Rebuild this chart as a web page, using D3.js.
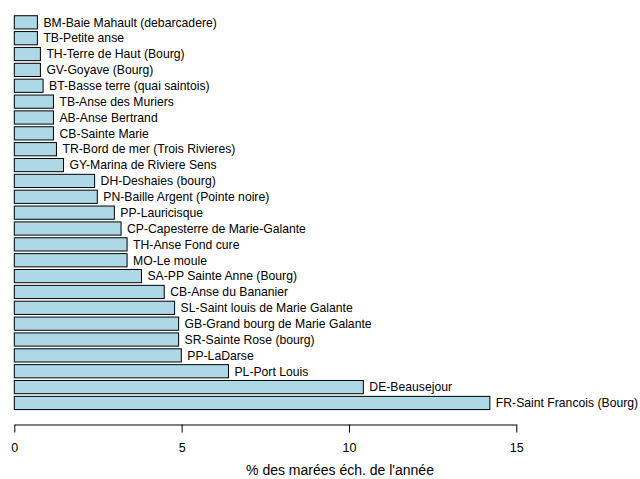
<!DOCTYPE html>
<html>
<head>
<meta charset="utf-8">
<script src="https://cdn.jsdelivr.net/npm/d3@7"></script>
<style>
html,body{margin:0;padding:0;background:#fff;}
svg{display:block;}
text{font-family:"Liberation Sans",Arial,sans-serif;}
</style>
</head>
<body>
<svg id="chart" width="640" height="479"></svg>
<script>
const categories = [
  "BM-Baie Mahault (debarcadere)",
  "TB-Petite anse",
  "TH-Terre de Haut (Bourg)",
  "GV-Goyave (Bourg)",
  "BT-Basse terre (quai saintois)",
  "TB-Anse des Muriers",
  "AB-Anse Bertrand",
  "CB-Sainte Marie",
  "TR-Bord de mer (Trois Rivieres)",
  "GY-Marina de Riviere Sens",
  "DH-Deshaies (bourg)",
  "PN-Baille Argent (Pointe noire)",
  "PP-Lauricisque",
  "CP-Capesterre de Marie-Galante",
  "TH-Anse Fond cure",
  "MO-Le moule",
  "SA-PP Sainte Anne (Bourg)",
  "CB-Anse du Bananier",
  "SL-Saint louis de Marie Galante",
  "GB-Grand bourg de Marie Galante",
  "SR-Sainte Rose (bourg)",
  "PP-LaDarse",
  "PL-Port Louis",
  "DE-Beausejour",
  "FR-Saint Francois (Bourg)"
];
const values = [0.69, 0.69, 0.78, 0.78, 0.86, 1.17, 1.17, 1.17, 1.26, 1.47,
  2.40, 2.48, 2.99, 3.19, 3.37, 3.37, 3.80, 4.48, 4.79, 4.91, 4.91, 4.99, 6.40, 10.43, 14.21];
const xTicks = [0, 5, 10, 15];
const xTitle = "% des marées éch. de l'année";

const svg = d3.select("#chart");
const x = d3.scaleLinear().domain([0, 15]).range([14.3, 516.3]);
const pitch = 15.86;
const y = d3.scaleBand()
  .domain(categories)
  .range([14.4, 14.4 + pitch * categories.length])
  .paddingInner(0.2 / 1.2)
  .paddingOuter(0.1 / 1.2);

const data = categories.map((c, i) => ({c, v: values[i]}));

svg.append("g").selectAll("rect").data(data).join("rect")
  .attr("x", x(0))
  .attr("y", d => y(d.c))
  .attr("width", d => x(d.v) - x(0))
  .attr("height", y.bandwidth())
  .attr("fill", "#ADD8E6")
  .attr("stroke", "#000")
  .attr("stroke-width", 1);

svg.append("g").selectAll("text").data(data).join("text")
  .attr("x", d => x(d.v) + 6)
  .attr("y", d => y(d.c) + y.bandwidth() / 2)
  .attr("dy", "0.35em")
  .attr("font-size", 12.2)
  .attr("fill", "#000")
  .text(d => d.c);

const axis = d3.axisBottom(x).tickValues(xTicks).tickSize(8).tickSizeOuter(0).tickPadding(11);
const ag = svg.append("g").attr("transform", "translate(0,424.5)").call(axis);
ag.select(".domain").attr("stroke", "#000");
ag.selectAll(".tick line").attr("stroke", "#000");
ag.selectAll(".tick text").attr("font-size", 12.5).attr("font-family", "Liberation Sans, Arial, sans-serif").attr("fill", "#000");

svg.append("text")
  .attr("x", 340)
  .attr("y", 475)
  .attr("text-anchor", "middle")
  .attr("font-size", 14)
  .attr("fill", "#000")
  .text(xTitle);
</script>
</body>
</html>
